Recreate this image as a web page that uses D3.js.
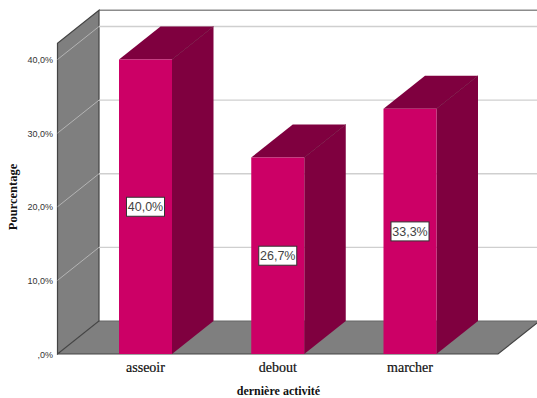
<!DOCTYPE html>
<html><head><meta charset="utf-8">
<script src="https://cdn.jsdelivr.net/npm/d3@7"></script>
<style>html,body{margin:0;padding:0;background:#fff}svg{display:block}</style>
</head><body><svg id="c" width="537" height="398"></svg>
<script>
const categories = ["asseoir","debout","marcher"];
const values = [40.0,26.7,33.3];
const valueLabels = ["40,0%","26,7%","33,3%"];
const yTicks = [0,10,20,30,40];
const tickLabels = [",0%","10,0%","20,0%","30,0%","40,0%"];
const xTitle = "dernière activité";
const yTitle = "Pourcentage";

const svg = d3.select("#c");
const y = d3.scaleLinear().domain([0,40]).range([354,59.5]);
const yTop = 42.2;
const dx = 41.5, dy = -33;
const x = d3.scalePoint().domain(categories).range([145.5,410]);
const barW = 53;
const floorR = 498;
const line = d3.line();
const poly = (pts,fill,stroke,sw)=>svg.append("path").attr("d",line(pts)+"Z").attr("fill",fill).attr("stroke",stroke||"none").attr("stroke-width",sw||1);

const x0 = 57.5, x1 = x0+dx;
// back wall top edge
svg.append("path").attr("d",line([[x1,y(yTop)+dy],[537,y(yTop)+dy]])).attr("stroke","#8c8c8c").attr("stroke-width",1.5).attr("fill","none");
// floor
poly([[x0,y(0)],[floorR,y(0)],[floorR+dx,y(0)+dy],[x1,y(0)+dy]],"#7f7f7f");
svg.append("path").attr("d",line([[x1,y(0)+dy],[537,y(0)+dy]])).attr("stroke","#666").attr("fill","none");
svg.append("path").attr("d",line([[x0,y(0)],[floorR,y(0)],[floorR+dx,y(0)+dy]])).attr("stroke","#444").attr("stroke-width",1.2).attr("fill","none");
svg.append("path").attr("d",line([[x0,y(0)],[x1,y(0)+dy]])).attr("stroke","#aaa").attr("stroke-width",.8).attr("fill","none");
// left wall
poly([[x0,y(0)],[x0,y(yTop)],[x1,y(yTop)+dy],[x1,y(0)+dy]],"#7f7f7f","#444",1.2);
// gridlines
yTicks.slice(1).forEach(t=>{
  svg.append("path").attr("d",line([[x0,y(t)],[x1,y(t)+dy]])).attr("stroke","#b4b4b4").attr("fill","none");
  svg.append("path").attr("d",line([[x1,y(t)+dy],[537,y(t)+dy]])).attr("stroke","#cfcfcf").attr("stroke-width",1.3).attr("fill","none");
});
// bars
const front="#cc0066", dark="#7f003f";
categories.forEach((c,i)=>{
  const l=x(c)-barW/2, r=l+barW, t=y(values[i]), b=y(0);
  poly([[r,b],[r,t],[r+dx,t+dy],[r+dx,b+dy]],dark);
  poly([[l,t],[r,t],[r+dx,t+dy],[l+dx,t+dy]],dark);
  poly([[l,t],[r,t],[r,b],[l,b]],front);
  svg.append("path").attr("d",line([[r,t],[r+dx,t+dy]])).attr("stroke","#66002f").attr("stroke-width",.6);
  const cy=(t+b)/2, w=38, h=19;
  svg.append("rect").attr("x",x(c)-w/2).attr("y",cy-h/2).attr("width",w).attr("height",h).attr("fill","#fff").attr("stroke","#333").attr("stroke-width",1);
  svg.append("text").attr("x",x(c)).attr("y",cy+4.5).attr("text-anchor","middle").attr("font-family","Liberation Sans").attr("font-size",12.5).attr("fill","#444").text(valueLabels[i]);
  svg.append("text").attr("x",x(c)).attr("y",372).attr("text-anchor","middle").attr("font-family","Liberation Serif").attr("font-size",14).attr("fill","#111").attr("stroke","#111").attr("stroke-width",.2).text(c);
});
// y labels
yTicks.forEach((t,i)=>svg.append("text").attr("x",53).attr("y",y(t)+3.5).attr("text-anchor","end").attr("font-family","Liberation Sans").attr("font-size",9).attr("fill","#333").text(tickLabels[i]));
svg.append("text").attr("x",278.5).attr("y",395).attr("text-anchor","middle").attr("font-family","Liberation Serif").attr("font-weight","bold").attr("font-size",12).attr("fill","#111").text(xTitle);
svg.append("text").attr("transform","translate(17,197) rotate(-90)").attr("text-anchor","middle").attr("font-family","Liberation Serif").attr("font-weight","bold").attr("font-size",12.5).attr("fill","#111").text(yTitle);
</script></body></html>
